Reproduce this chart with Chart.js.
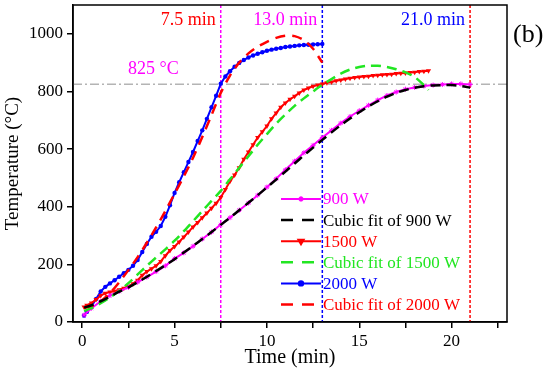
<!doctype html>
<html lang="en">
  <head>
    <meta charset="utf-8">
    <script src="https://cdn.jsdelivr.net/npm/chart.js@4.4.0/dist/chart.umd.min.js"></script>
    <title>Temperature vs time</title>
    <style>
      html, body { margin: 0; padding: 0; background: #fff; }
    </style>
  </head>
  <body>
    <canvas id="grafica" width="550" height="386"></canvas>

  <script>

    // 900 W measured + cubic fit
    let t900 = [0.1,0.5,1,1.5,2,2.5,3,3.5,4,4.5,5,5.5,6,6.5,7,7.5,8,8.5,9,9.5,10,10.5,11,11.5,12,12.5,13,13.5,14,14.5,15,15.5,16,16.5,17,17.5,18,18.5,19,19.5,20,20.5,21];
    let temp900 = [24,48,72,92,106,120,138,156,175,195,220,240,263,288,312,338,362,388,413,440,468,497,528,558,587,613,640,665,690,713,733,752,770,786,798,808,814,819,822,824,826,826,824];
    let fit900 = [50,58,72,88,105,120,138,157,177,197,218,241,264,288,312,337,362,388,414,440,467,494,522,550,578,605,632,658,683,706,728,748,766,782,795,805,813,818,821,822,822,819,813];

    // 1500 W measured
    let t1500 = [0.1,0.25,0.5,0.75,1,1.25,1.5,1.75,2,2.25,2.5,2.75,3,3.25,3.5,3.75,4,4.25,4.5,4.75,5,5.25,5.5,5.75,6,6.25,6.5,6.75,7,7.25,7.5,7.75,8,8.25,8.5,8.75,9,9.25,9.5,9.75,10,10.25,10.5,10.75,11,11.25,11.5,11.75,12,12.25,12.5,12.75,13,13.25,13.5,13.75,14,14.25,14.5,14.75,15,15.25,15.5,15.75,16,16.25,16.5,16.75,17,17.25,17.5,17.75,18,18.25,18.5,18.75];
    let temp1500 = [52,58,66,78,92,100,104,107,112,117,124,133,145,162,175,185,195,210,230,248,262,278,295,312,330,345,362,378,395,412,432,460,488,510,535,565,590,615,640,660,680,705,725,745,760,773,783,795,805,812,818,822,826,830,833,837,840,843,846,848,850,852,853,855,856,858,859,860,862,863,864,866,867,869,870,872];

    // 1500 W cubic fit
    let tFit1500 = [0.1,0.5,1,1.5,2,2.5,3,3.5,4,4.5,5,5.5,6,6.5,7,7.5,8,8.5,9,9.5,10,10.5,11,11.5,12,12.5,13,13.5,14,14.5,15,15.5,16,16.5,17,17.5,18,18.5,18.75];
    let fit1500 = [38,48,65,85,108,135,165,195,224,252,282,315,350,385,420,455,495,535,575,615,652,688,720,750,776,800,823,843,862,876,885,889,889,885,877,866,850,822,805];

    // 2000 W measured
    let t2000 = [0.1,0.25,0.5,0.75,1,1.25,1.5,1.75,2,2.25,2.5,2.75,3,3.25,3.5,3.75,4,4.25,4.5,4.75,5,5.25,5.5,5.75,6,6.25,6.5,6.75,7,7.25,7.5,7.75,8,8.25,8.5,8.75,9,9.25,9.5,9.75,10,10.25,10.5,10.75,11,11.25,11.5,11.75,12,12.25,12.5,12.75,13];
    let temp2000 = [22,35,55,80,106,122,134,145,157,169,181,195,215,243,271,296,313,333,365,405,448,485,520,555,590,628,665,705,745,785,827,852,870,886,899,909,918,925,931,936,941,945,948,951,954,956,958,960,961,962,963,964,965];

    // 2000 W cubic fit
    let tFit2000 = [0.1,0.5,1,1.5,2,2.5,3,3.5,4,4.5,5,5.5,6,6.5,7,7.5,8,8.5,9,9.5,10,10.5,11,11.5,12,12.5,13];
    let fit2000 = [48,55,72,100,138,180,225,275,328,385,445,505,570,642,718,795,855,900,932,955,972,986,993,992,978,948,900];

    let xTicks = [0,2.5,5,7.5,10,12.5,15,17.5,20,22.5];
    let yTicks = [0,200,400,600,800,1000];

    // reference lines and labels
    let vLines = [
      { x: 7.5, color: "#ff00ff", label: "7.5 min", labelColor: "#ff0000" },
      { x: 13, color: "#0000ff", label: "13.0 min", labelColor: "#ff00ff" },
      { x: 21, color: "#ff0000", label: "21.0 min", labelColor: "#0000ff" }
    ];
    let hLine = 825;

    const serif = "'Liberation Serif', 'DejaVu Serif', serif";
    const pts = (xs, ys) => xs.map((x, i) => ({ x: x, y: ys[i] }));

    let series = [
      { label: "900 W", data: pts(t900, temp900), borderColor: "#ff00ff", backgroundColor: "#ff00ff",
        borderWidth: 2, pointStyle: "star", pointRadius: 2.5, pointBorderWidth: 1, order: 2, kind: "solid" },
      { label: "Cubic fit of 900 W", data: pts(t900, fit900), borderColor: "#000000",
        borderWidth: 2.5, borderDash: [10, 6], pointRadius: 0, tension: 0.3, order: 1, kind: "dash" },
      { label: "1500 W", data: pts(t1500, temp1500), borderColor: "#ff0000", backgroundColor: "#ff0000",
        borderWidth: 2, pointStyle: "triangle", rotation: 180, pointRadius: 3, pointBorderWidth: 0, order: 2, kind: "solid" },
      { label: "Cubic fit of 1500 W", data: pts(tFit1500, fit1500), borderColor: "#22e622",
        borderWidth: 2.5, borderDash: [10, 6], pointRadius: 0, tension: 0.3, order: 1, kind: "dash" },
      { label: "2000 W", data: pts(t2000, temp2000), borderColor: "#0000ff", backgroundColor: "#0000ff",
        borderWidth: 2, pointStyle: "circle", pointRadius: 2.2, pointBorderWidth: 0, order: 2, kind: "solid" },
      { label: "Cubic fit of 2000 W", data: pts(tFit2000, fit2000), borderColor: "#ff0000",
        borderWidth: 2.5, borderDash: [10, 7], pointRadius: 0, tension: 0.3, order: 1, kind: "dash" }
    ];

    const refPlugin = {
      id: "refLines",
      beforeDatasetsDraw(chart) {
        const { ctx, chartArea: a, scales: { x, y } } = chart;
        ctx.save();
        ctx.lineWidth = 1.5;
        ctx.strokeStyle = "#b4b4b4";
        ctx.setLineDash([9, 3, 2, 3]);
        let yy = y.getPixelForValue(hLine);
        ctx.beginPath(); ctx.moveTo(a.left, yy); ctx.lineTo(a.right, yy); ctx.stroke();
        ctx.setLineDash([3, 2]);
        vLines.forEach(v => {
          let xx = x.getPixelForValue(v.x);
          ctx.strokeStyle = v.color;
          ctx.beginPath(); ctx.moveTo(xx, a.top); ctx.lineTo(xx, a.bottom); ctx.stroke();
        });
        ctx.restore();
      },
      afterDatasetsDraw(chart) {
        const { ctx, chartArea: a, scales: { x, y } } = chart;
        ctx.save();
        // legend
        let lx = 281, rowY = 199, gap = 21.1;
        ctx.font = "17px " + serif;
        ctx.textBaseline = "middle";
        series.forEach((s, i) => {
          let yy = rowY + i * gap;
          ctx.strokeStyle = s.borderColor;
          ctx.lineWidth = s.kind == "dash" ? 2.5 : 2;
          ctx.setLineDash(s.kind == "dash" ? [12, 9] : []);
          ctx.beginPath(); ctx.moveTo(lx, yy); ctx.lineTo(lx + (s.kind == "dash" ? 34 : 40), yy); ctx.stroke();
          ctx.setLineDash([]);
          if (s.kind == "solid") {
            Chart.helpers.drawPoint(ctx, { pointStyle: s.pointStyle, radius: s.pointRadius, rotation: s.rotation || 0,
              borderWidth: s.pointBorderWidth || 1 }, lx + 20, yy);
            ctx.fillStyle = s.backgroundColor;
            ctx.fill();
          }
          ctx.fillStyle = s.borderColor;
          ctx.textAlign = "left";
          ctx.fillText(s.label, lx + 42, yy + 1);
        });

        // annotations
        ctx.font = "18px " + serif;
        ctx.textAlign = "right";
        vLines.forEach(v => {
          ctx.fillStyle = v.labelColor;
          ctx.fillText(v.label, x.getPixelForValue(v.x) - 5, 20);
        });
        ctx.fillStyle = "#ff00ff";
        ctx.textAlign = "left";
        ctx.fillText("825 °C", 128, 69);

        // frame
        ctx.strokeStyle = "#000";
        ctx.lineWidth = 1.5;
        ctx.strokeRect(a.left, a.top, a.right - a.left, a.bottom - a.top);

        ctx.font = "26px " + serif;
        ctx.fillStyle = "#000";
        ctx.fillText("(b)", 513, 35);
        ctx.restore();
      }
    };

    let canvas = document.getElementById("grafica").getContext("2d");

    var chart = new Chart(canvas, {
      type: "line",
      data: { datasets: series },
      options: {
        responsive: false,
        animation: false,
        devicePixelRatio: 1,
        layout: { padding: { top: 3, right: 43, left: 0, bottom: 0 } },
        plugins: { legend: { display: false }, tooltip: { enabled: false } },
        scales: {
          x: {
            type: "linear",
            min: -0.5,
            max: 23,
            afterBuildTicks: s => { s.ticks = xTicks.map(v => ({ value: v })); },
            afterFit: s => { s.height = 64; s.paddingLeft = 0; s.paddingRight = 0; },
            ticks: {
              autoSkip: false, maxRotation: 0, padding: 3, color: "#000",
              font: { family: serif, size: 17 },
              callback: v => (v % 5 === 0 ? String(v) : "")
            },
            grid: { drawOnChartArea: false, tickLength: 6, color: "#000", lineWidth: 1.5 },
            border: { color: "#000", width: 1.5 },
            title: { display: true, text: "Time (min)", color: "#000",
              font: { family: serif, size: 20 }, padding: { top: 0, bottom: 16 } }
          },
          y: {
            min: 0,
            max: 1100,
            afterBuildTicks: s => { s.ticks = yTicks.map(v => ({ value: v })); },
            afterFit: s => { s.width = 73; s.paddingTop = 0; s.paddingBottom = 0; },
            ticks: { autoSkip: false, padding: 4, color: "#000", font: { family: serif, size: 17 },
              callback: v => String(v) },
            grid: { drawOnChartArea: false, tickLength: 6, color: "#000", lineWidth: 1.5 },
            border: { color: "#000", width: 1.5 },
            title: { display: true, text: "Temperature (°C)", color: "#000",
              font: { family: serif, size: 19 }, padding: { top: 2, bottom: 0 } }
          }
        }
      },
      plugins: [refPlugin]
    });

  </script>
  </body>
</html>
